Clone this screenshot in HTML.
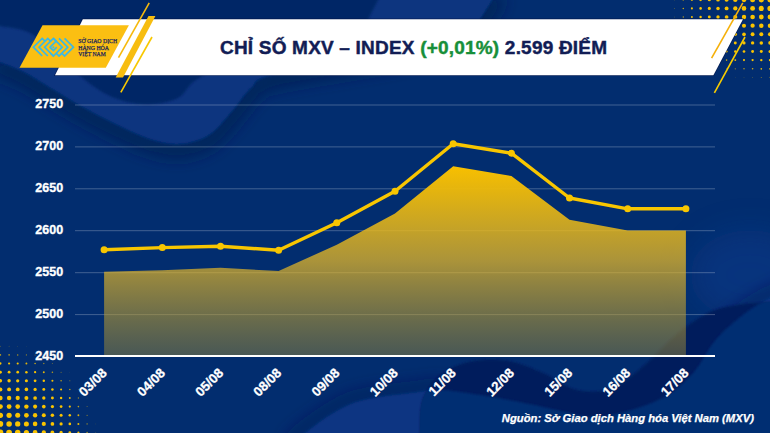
<!DOCTYPE html>
<html><head><meta charset="utf-8">
<style>
html,body{margin:0;padding:0;width:770px;height:433px;overflow:hidden;background:#022d6f;}
svg{display:block;position:absolute;left:0;top:0;}
text{font-family:"Liberation Sans",sans-serif;}
.serif text{font-family:"Liberation Serif",serif;}
</style></head><body>
<svg width="770" height="433" viewBox="0 0 770 433">
<defs>
<linearGradient id="ag" x1="0" y1="166" x2="0" y2="356" gradientUnits="userSpaceOnUse">
<stop offset="0" stop-color="rgb(248,192,0)" stop-opacity="1"/>
<stop offset="0.15" stop-color="rgb(236,185,12)" stop-opacity="0.95"/>
<stop offset="0.5" stop-color="rgb(236,187,37)" stop-opacity="0.72"/>
<stop offset="1" stop-color="rgb(143,130,59)" stop-opacity="0.5"/>
</linearGradient>
</defs>
<rect x="0" y="0" width="770" height="433" fill="#022d6f"/>
<defs>
<filter id="b1" x="-20%" y="-20%" width="140%" height="140%"><feGaussianBlur stdDeviation="0.8"/></filter>
<filter id="b6" x="-50%" y="-50%" width="200%" height="200%"><feGaussianBlur stdDeviation="7"/></filter>
<filter id="b15" x="-100%" y="-100%" width="300%" height="300%"><feGaussianBlur stdDeviation="15"/></filter>
</defs>
<path d="M-5.0,60.0 C-4.2,60.3 -4.7,60.1 0.0,62.0 C4.7,63.9 15.3,67.7 23.0,71.5 C30.7,75.3 38.3,80.4 46.0,85.0 C53.7,89.6 61.3,94.5 69.0,99.0 C76.7,103.5 83.2,107.3 92.0,112.0 C100.8,116.7 112.3,122.5 122.0,127.0 C131.7,131.5 141.2,136.2 150.0,139.0 C158.8,141.8 167.5,143.7 175.0,144.0 C182.5,144.3 188.7,143.0 195.0,141.0 C201.3,139.0 206.7,137.2 213.0,132.0 C219.3,126.8 226.7,117.3 233.0,110.0 C239.3,102.7 244.0,94.0 251.0,88.0 C258.0,82.0 250.2,80.0 275.0,74.0 C299.8,68.0 367.5,59.0 400.0,52.0 C432.5,45.0 456.5,37.8 470.0,32.0 C483.5,26.2 477.3,22.8 481.0,17.5 C484.7,12.2 489.2,4.6 492.0,0.0 C494.8,-4.6 497.0,-8.3 498.0,-10.0 L770,-10 L-10,-10 Z" fill="#07347f" filter="url(#b1)"/>
<path d="M-5.0,60.0 C-4.2,60.3 -4.7,60.1 0.0,62.0 C4.7,63.9 15.3,67.7 23.0,71.5 C30.7,75.3 38.3,80.4 46.0,85.0 C53.7,89.6 61.3,94.5 69.0,99.0 C76.7,103.5 83.2,107.3 92.0,112.0 C100.8,116.7 112.3,122.5 122.0,127.0 C131.7,131.5 141.2,136.2 150.0,139.0 C158.8,141.8 167.5,143.7 175.0,144.0 C182.5,144.3 188.7,143.0 195.0,141.0 C201.3,139.0 206.7,137.2 213.0,132.0 C219.3,126.8 226.7,117.3 233.0,110.0 C239.3,102.7 244.0,94.0 251.0,88.0 C258.0,82.0 250.2,80.0 275.0,74.0 C299.8,68.0 367.5,59.0 400.0,52.0 C432.5,45.0 456.5,37.8 470.0,32.0 C483.5,26.2 477.3,22.8 481.0,17.5 C484.7,12.2 489.2,4.6 492.0,0.0 C494.8,-4.6 497.0,-8.3 498.0,-10.0" fill="none" stroke="#001a50" stroke-width="20" stroke-opacity="0.6" filter="url(#b6)" transform="translate(0,6)"/>
<path d="M-5.0,60.0 C-4.2,60.3 -4.7,60.1 0.0,62.0 C4.7,63.9 15.3,67.7 23.0,71.5 C30.7,75.3 38.3,80.4 46.0,85.0 C53.7,89.6 61.3,94.5 69.0,99.0 C76.7,103.5 83.2,107.3 92.0,112.0 C100.8,116.7 112.3,122.5 122.0,127.0 C131.7,131.5 141.2,136.2 150.0,139.0 C158.8,141.8 167.5,143.7 175.0,144.0 C182.5,144.3 188.7,143.0 195.0,141.0 C201.3,139.0 206.7,137.2 213.0,132.0 C219.3,126.8 226.7,117.3 233.0,110.0 C239.3,102.7 244.0,94.0 251.0,88.0 C258.0,82.0 250.2,80.0 275.0,74.0 C299.8,68.0 367.5,59.0 400.0,52.0 C432.5,45.0 456.5,37.8 470.0,32.0 C483.5,26.2 477.3,22.8 481.0,17.5 C484.7,12.2 489.2,4.6 492.0,0.0 C494.8,-4.6 497.0,-8.3 498.0,-10.0 L770,-10 L-10,-10 Z" fill="#07347f" filter="url(#b1)"/>
<path d="M-5.0,25.0 C-4.2,25.2 -5.5,24.8 0.0,26.0 C5.5,27.2 19.3,28.0 28.0,32.0 C36.7,36.0 43.3,42.7 52.0,50.0 C60.7,57.3 70.3,68.3 80.0,76.0 C89.7,83.7 99.2,91.2 110.0,96.0 C120.8,100.8 133.7,104.2 145.0,104.5 C156.3,104.8 169.5,102.1 178.0,98.0 C186.5,93.9 185.7,86.3 196.0,80.0 C206.3,73.7 219.3,65.8 240.0,60.0 C260.7,54.2 299.7,50.0 320.0,45.0 C340.3,40.0 353.8,34.6 362.0,30.0 C370.2,25.4 366.3,22.5 369.0,17.5 C371.7,12.5 375.7,4.6 378.0,0.0 C380.3,-4.6 382.2,-8.3 383.0,-10.0 L-10,-10 Z" fill="#042766" filter="url(#b1)"/>
<ellipse cx="750" cy="275" rx="60" ry="45" fill="#0a3a8c" opacity="0.5" filter="url(#b15)"/>
<clipPath id="cb1"><path d="M420.0,445.0 C420.0,443.0 419.5,440.7 420.0,433.0 C420.5,425.3 419.2,409.0 423.0,399.0 C426.8,389.0 434.5,379.3 443.0,373.0 C451.5,366.7 463.0,363.0 474.0,361.0 C485.0,359.0 497.5,359.0 509.0,361.0 C520.5,363.0 531.7,368.2 543.0,373.0 C554.3,377.8 565.3,387.5 577.0,390.0 C588.7,392.5 601.2,392.7 613.0,388.0 C624.8,383.3 637.3,371.0 648.0,362.0 C658.7,353.0 667.0,342.2 677.0,334.0 C687.0,325.8 698.0,317.8 708.0,313.0 C718.0,308.2 726.7,306.8 737.0,305.0 C747.3,303.2 761.2,302.5 770.0,302.0 C778.8,301.5 786.7,302.0 790.0,302.0 L790,450 Z"/></clipPath>
<path d="M290.0,450.0 C292.5,447.2 294.5,440.8 305.0,433.0 C315.5,425.2 334.2,409.8 353.0,403.0 C371.8,396.2 403.0,394.2 418.0,392.0 C433.0,389.8 431.7,389.3 443.0,390.0 C454.3,390.7 471.7,393.7 486.0,396.0 C500.3,398.3 514.8,401.2 529.0,404.0 C543.2,406.8 560.0,410.8 571.0,413.0 C582.0,415.2 585.0,417.5 595.0,417.0 C605.0,416.5 619.2,413.5 631.0,410.0 C642.8,406.5 655.5,402.3 666.0,396.0 C676.5,389.7 685.8,381.3 694.0,372.0 C702.2,362.7 707.2,349.7 715.5,340.0 C723.8,330.3 734.9,321.0 744.0,314.0 C753.1,307.0 762.3,302.0 770.0,298.0 C777.7,294.0 786.7,291.3 790.0,290.0" fill="none" stroke="#001d55" stroke-width="14" stroke-opacity="0.45" filter="url(#b6)" transform="translate(-3,-4)"/>
<path d="M290.0,450.0 C292.5,447.2 294.5,440.8 305.0,433.0 C315.5,425.2 334.2,409.8 353.0,403.0 C371.8,396.2 403.0,394.2 418.0,392.0 C433.0,389.8 431.7,389.3 443.0,390.0 C454.3,390.7 471.7,393.7 486.0,396.0 C500.3,398.3 514.8,401.2 529.0,404.0 C543.2,406.8 560.0,410.8 571.0,413.0 C582.0,415.2 585.0,417.5 595.0,417.0 C605.0,416.5 619.2,413.5 631.0,410.0 C642.8,406.5 655.5,402.3 666.0,396.0 C676.5,389.7 685.8,381.3 694.0,372.0 C702.2,362.7 707.2,349.7 715.5,340.0 C723.8,330.3 734.9,321.0 744.0,314.0 C753.1,307.0 762.3,302.0 770.0,298.0 C777.7,294.0 786.7,291.3 790.0,290.0 L790,450 L290,450 Z" fill="#083482" filter="url(#b1)"/>
<path d="M420.0,445.0 C420.0,443.0 419.5,440.7 420.0,433.0 C420.5,425.3 419.2,409.0 423.0,399.0 C426.8,389.0 434.5,379.3 443.0,373.0 C451.5,366.7 463.0,363.0 474.0,361.0 C485.0,359.0 497.5,359.0 509.0,361.0 C520.5,363.0 531.7,368.2 543.0,373.0 C554.3,377.8 565.3,387.5 577.0,390.0 C588.7,392.5 601.2,392.7 613.0,388.0 C624.8,383.3 637.3,371.0 648.0,362.0 C658.7,353.0 667.0,342.2 677.0,334.0 C687.0,325.8 698.0,317.8 708.0,313.0 C718.0,308.2 726.7,306.8 737.0,305.0 C747.3,303.2 761.2,302.5 770.0,302.0 C778.8,301.5 786.7,302.0 790.0,302.0 L790,450 Z" fill="#021f5c" filter="url(#b1)"/>
<g clip-path="url(#cb1)"><path d="M290.0,450.0 C292.5,447.2 294.5,440.8 305.0,433.0 C315.5,425.2 334.2,409.8 353.0,403.0 C371.8,396.2 403.0,394.2 418.0,392.0 C433.0,389.8 431.7,389.3 443.0,390.0 C454.3,390.7 471.7,393.7 486.0,396.0 C500.3,398.3 514.8,401.2 529.0,404.0 C543.2,406.8 560.0,410.8 571.0,413.0 C582.0,415.2 585.0,417.5 595.0,417.0 C605.0,416.5 619.2,413.5 631.0,410.0 C642.8,406.5 655.5,402.3 666.0,396.0 C676.5,389.7 685.8,381.3 694.0,372.0 C702.2,362.7 707.2,349.7 715.5,340.0 C723.8,330.3 734.9,321.0 744.0,314.0 C753.1,307.0 762.3,302.0 770.0,298.0 C777.7,294.0 786.7,291.3 790.0,290.0 L790,450 L290,450 Z" fill="#042d72" filter="url(#b1)"/></g>

<g fill="#f9c300">
<circle cx="674.6" cy="-0.2" r="0.51" opacity="0.52"/>
<circle cx="674.6" cy="8.4" r="0.48" opacity="0.49"/>
<circle cx="674.6" cy="17.0" r="0.42" opacity="0.42"/>
<circle cx="674.6" cy="25.7" r="0.32" opacity="0.32"/>
<circle cx="683.3" cy="-0.2" r="0.80" opacity="0.83"/>
<circle cx="683.3" cy="8.4" r="0.77" opacity="0.80"/>
<circle cx="683.3" cy="17.0" r="0.70" opacity="0.72"/>
<circle cx="683.3" cy="25.7" r="0.59" opacity="0.61"/>
<circle cx="683.3" cy="34.3" r="0.45" opacity="0.46"/>
<circle cx="691.9" cy="-0.2" r="1.07" opacity="1.00"/>
<circle cx="691.9" cy="8.4" r="1.04" opacity="1.00"/>
<circle cx="691.9" cy="17.0" r="0.97" opacity="1.00"/>
<circle cx="691.9" cy="25.7" r="0.86" opacity="0.90"/>
<circle cx="691.9" cy="34.3" r="0.71" opacity="0.73"/>
<circle cx="691.9" cy="42.9" r="0.53" opacity="0.54"/>
<circle cx="691.9" cy="51.5" r="0.31" opacity="0.31"/>
<circle cx="700.6" cy="-0.2" r="1.33" opacity="1.00"/>
<circle cx="700.6" cy="8.4" r="1.29" opacity="1.00"/>
<circle cx="700.6" cy="17.0" r="1.22" opacity="1.00"/>
<circle cx="700.6" cy="25.7" r="1.10" opacity="1.00"/>
<circle cx="700.6" cy="34.3" r="0.95" opacity="1.00"/>
<circle cx="700.6" cy="42.9" r="0.76" opacity="0.79"/>
<circle cx="700.6" cy="51.5" r="0.54" opacity="0.55"/>
<circle cx="709.3" cy="-0.2" r="1.57" opacity="1.00"/>
<circle cx="709.3" cy="8.4" r="1.53" opacity="1.00"/>
<circle cx="709.3" cy="17.0" r="1.45" opacity="1.00"/>
<circle cx="709.3" cy="25.7" r="1.33" opacity="1.00"/>
<circle cx="709.3" cy="34.3" r="1.17" opacity="1.00"/>
<circle cx="709.3" cy="42.9" r="0.97" opacity="1.00"/>
<circle cx="709.3" cy="51.5" r="0.74" opacity="0.77"/>
<circle cx="709.3" cy="60.1" r="0.48" opacity="0.49"/>
<circle cx="718.0" cy="-0.2" r="1.79" opacity="1.00"/>
<circle cx="718.0" cy="8.4" r="1.76" opacity="1.00"/>
<circle cx="718.0" cy="17.0" r="1.67" opacity="1.00"/>
<circle cx="718.0" cy="25.7" r="1.54" opacity="1.00"/>
<circle cx="718.0" cy="34.3" r="1.37" opacity="1.00"/>
<circle cx="718.0" cy="42.9" r="1.16" opacity="1.00"/>
<circle cx="718.0" cy="51.5" r="0.93" opacity="0.98"/>
<circle cx="718.0" cy="60.1" r="0.66" opacity="0.68"/>
<circle cx="718.0" cy="68.8" r="0.36" opacity="0.37"/>
<circle cx="726.6" cy="-0.2" r="2.00" opacity="1.00"/>
<circle cx="726.6" cy="8.4" r="1.96" opacity="1.00"/>
<circle cx="726.6" cy="17.0" r="1.87" opacity="1.00"/>
<circle cx="726.6" cy="25.7" r="1.73" opacity="1.00"/>
<circle cx="726.6" cy="34.3" r="1.55" opacity="1.00"/>
<circle cx="726.6" cy="42.9" r="1.34" opacity="1.00"/>
<circle cx="726.6" cy="51.5" r="1.09" opacity="1.00"/>
<circle cx="726.6" cy="60.1" r="0.81" opacity="0.85"/>
<circle cx="726.6" cy="68.8" r="0.51" opacity="0.52"/>
<circle cx="735.3" cy="-0.2" r="2.19" opacity="1.00"/>
<circle cx="735.3" cy="8.4" r="2.15" opacity="1.00"/>
<circle cx="735.3" cy="17.0" r="2.05" opacity="1.00"/>
<circle cx="735.3" cy="25.7" r="1.90" opacity="1.00"/>
<circle cx="735.3" cy="34.3" r="1.71" opacity="1.00"/>
<circle cx="735.3" cy="42.9" r="1.48" opacity="1.00"/>
<circle cx="735.3" cy="51.5" r="1.23" opacity="1.00"/>
<circle cx="735.3" cy="60.1" r="0.94" opacity="1.00"/>
<circle cx="735.3" cy="68.8" r="0.64" opacity="0.66"/>
<circle cx="735.3" cy="77.4" r="0.31" opacity="0.31"/>
<circle cx="744.0" cy="-0.2" r="2.36" opacity="1.00"/>
<circle cx="744.0" cy="8.4" r="2.31" opacity="1.00"/>
<circle cx="744.0" cy="17.0" r="2.20" opacity="1.00"/>
<circle cx="744.0" cy="25.7" r="2.04" opacity="1.00"/>
<circle cx="744.0" cy="34.3" r="1.84" opacity="1.00"/>
<circle cx="744.0" cy="42.9" r="1.60" opacity="1.00"/>
<circle cx="744.0" cy="51.5" r="1.34" opacity="1.00"/>
<circle cx="744.0" cy="60.1" r="1.05" opacity="1.00"/>
<circle cx="744.0" cy="68.8" r="0.74" opacity="0.76"/>
<circle cx="744.0" cy="77.4" r="0.40" opacity="0.41"/>
<circle cx="752.6" cy="-0.2" r="2.50" opacity="1.00"/>
<circle cx="752.6" cy="8.4" r="2.45" opacity="1.00"/>
<circle cx="752.6" cy="17.0" r="2.32" opacity="1.00"/>
<circle cx="752.6" cy="25.7" r="2.15" opacity="1.00"/>
<circle cx="752.6" cy="34.3" r="1.94" opacity="1.00"/>
<circle cx="752.6" cy="42.9" r="1.69" opacity="1.00"/>
<circle cx="752.6" cy="51.5" r="1.42" opacity="1.00"/>
<circle cx="752.6" cy="60.1" r="1.13" opacity="1.00"/>
<circle cx="752.6" cy="68.8" r="0.81" opacity="0.85"/>
<circle cx="752.6" cy="77.4" r="0.47" opacity="0.48"/>
<circle cx="761.3" cy="-0.2" r="2.62" opacity="1.00"/>
<circle cx="761.3" cy="8.4" r="2.55" opacity="1.00"/>
<circle cx="761.3" cy="17.0" r="2.41" opacity="1.00"/>
<circle cx="761.3" cy="25.7" r="2.22" opacity="1.00"/>
<circle cx="761.3" cy="34.3" r="2.00" opacity="1.00"/>
<circle cx="761.3" cy="42.9" r="1.75" opacity="1.00"/>
<circle cx="761.3" cy="51.5" r="1.48" opacity="1.00"/>
<circle cx="761.3" cy="60.1" r="1.18" opacity="1.00"/>
<circle cx="761.3" cy="68.8" r="0.86" opacity="0.90"/>
<circle cx="761.3" cy="77.4" r="0.52" opacity="0.53"/>
<circle cx="770.0" cy="-0.2" r="2.69" opacity="1.00"/>
<circle cx="770.0" cy="8.4" r="2.60" opacity="1.00"/>
<circle cx="770.0" cy="17.0" r="2.44" opacity="1.00"/>
<circle cx="770.0" cy="25.7" r="2.25" opacity="1.00"/>
<circle cx="770.0" cy="34.3" r="2.03" opacity="1.00"/>
<circle cx="770.0" cy="42.9" r="1.78" opacity="1.00"/>
<circle cx="770.0" cy="51.5" r="1.50" opacity="1.00"/>
<circle cx="770.0" cy="60.1" r="1.20" opacity="1.00"/>
<circle cx="770.0" cy="68.8" r="0.88" opacity="0.92"/>
<circle cx="770.0" cy="77.4" r="0.54" opacity="0.55"/>
<circle cx="0.4" cy="346.3" r="0.47" opacity="0.43"/>
<circle cx="0.4" cy="354.9" r="0.81" opacity="0.76"/>
<circle cx="0.4" cy="363.5" r="1.13" opacity="1.00"/>
<circle cx="0.4" cy="372.2" r="1.44" opacity="1.00"/>
<circle cx="0.4" cy="380.8" r="1.73" opacity="1.00"/>
<circle cx="0.4" cy="389.4" r="1.99" opacity="1.00"/>
<circle cx="0.4" cy="398.0" r="2.24" opacity="1.00"/>
<circle cx="0.4" cy="406.6" r="2.46" opacity="1.00"/>
<circle cx="0.4" cy="415.3" r="2.65" opacity="1.00"/>
<circle cx="0.4" cy="423.9" r="2.82" opacity="1.00"/>
<circle cx="0.4" cy="432.5" r="2.94" opacity="1.00"/>
<circle cx="9.1" cy="346.3" r="0.45" opacity="0.41"/>
<circle cx="9.1" cy="354.9" r="0.79" opacity="0.73"/>
<circle cx="9.1" cy="363.5" r="1.11" opacity="1.00"/>
<circle cx="9.1" cy="372.2" r="1.41" opacity="1.00"/>
<circle cx="9.1" cy="380.8" r="1.70" opacity="1.00"/>
<circle cx="9.1" cy="389.4" r="1.96" opacity="1.00"/>
<circle cx="9.1" cy="398.0" r="2.20" opacity="1.00"/>
<circle cx="9.1" cy="406.6" r="2.42" opacity="1.00"/>
<circle cx="9.1" cy="415.3" r="2.61" opacity="1.00"/>
<circle cx="9.1" cy="423.9" r="2.76" opacity="1.00"/>
<circle cx="9.1" cy="432.5" r="2.87" opacity="1.00"/>
<circle cx="17.7" cy="346.3" r="0.39" opacity="0.36"/>
<circle cx="17.7" cy="354.9" r="0.73" opacity="0.68"/>
<circle cx="17.7" cy="363.5" r="1.05" opacity="1.00"/>
<circle cx="17.7" cy="372.2" r="1.35" opacity="1.00"/>
<circle cx="17.7" cy="380.8" r="1.63" opacity="1.00"/>
<circle cx="17.7" cy="389.4" r="1.89" opacity="1.00"/>
<circle cx="17.7" cy="398.0" r="2.13" opacity="1.00"/>
<circle cx="17.7" cy="406.6" r="2.33" opacity="1.00"/>
<circle cx="17.7" cy="415.3" r="2.51" opacity="1.00"/>
<circle cx="17.7" cy="423.9" r="2.65" opacity="1.00"/>
<circle cx="17.7" cy="432.5" r="2.74" opacity="1.00"/>
<circle cx="26.4" cy="346.3" r="0.31" opacity="0.28"/>
<circle cx="26.4" cy="354.9" r="0.64" opacity="0.59"/>
<circle cx="26.4" cy="363.5" r="0.96" opacity="0.90"/>
<circle cx="26.4" cy="372.2" r="1.25" opacity="1.00"/>
<circle cx="26.4" cy="380.8" r="1.53" opacity="1.00"/>
<circle cx="26.4" cy="389.4" r="1.78" opacity="1.00"/>
<circle cx="26.4" cy="398.0" r="2.01" opacity="1.00"/>
<circle cx="26.4" cy="406.6" r="2.21" opacity="1.00"/>
<circle cx="26.4" cy="415.3" r="2.37" opacity="1.00"/>
<circle cx="26.4" cy="423.9" r="2.50" opacity="1.00"/>
<circle cx="26.4" cy="432.5" r="2.57" opacity="1.00"/>
<circle cx="35.1" cy="354.9" r="0.52" opacity="0.48"/>
<circle cx="35.1" cy="363.5" r="0.83" opacity="0.78"/>
<circle cx="35.1" cy="372.2" r="1.12" opacity="1.00"/>
<circle cx="35.1" cy="380.8" r="1.39" opacity="1.00"/>
<circle cx="35.1" cy="389.4" r="1.63" opacity="1.00"/>
<circle cx="35.1" cy="398.0" r="1.85" opacity="1.00"/>
<circle cx="35.1" cy="406.6" r="2.04" opacity="1.00"/>
<circle cx="35.1" cy="415.3" r="2.19" opacity="1.00"/>
<circle cx="35.1" cy="423.9" r="2.31" opacity="1.00"/>
<circle cx="35.1" cy="432.5" r="2.38" opacity="1.00"/>
<circle cx="43.8" cy="354.9" r="0.38" opacity="0.34"/>
<circle cx="43.8" cy="363.5" r="0.68" opacity="0.63"/>
<circle cx="43.8" cy="372.2" r="0.96" opacity="0.91"/>
<circle cx="43.8" cy="380.8" r="1.22" opacity="1.00"/>
<circle cx="43.8" cy="389.4" r="1.46" opacity="1.00"/>
<circle cx="43.8" cy="398.0" r="1.67" opacity="1.00"/>
<circle cx="43.8" cy="406.6" r="1.84" opacity="1.00"/>
<circle cx="43.8" cy="415.3" r="1.99" opacity="1.00"/>
<circle cx="43.8" cy="423.9" r="2.09" opacity="1.00"/>
<circle cx="43.8" cy="432.5" r="2.16" opacity="1.00"/>
<circle cx="52.4" cy="363.5" r="0.50" opacity="0.46"/>
<circle cx="52.4" cy="372.2" r="0.78" opacity="0.72"/>
<circle cx="52.4" cy="380.8" r="1.03" opacity="0.97"/>
<circle cx="52.4" cy="389.4" r="1.25" opacity="1.00"/>
<circle cx="52.4" cy="398.0" r="1.45" opacity="1.00"/>
<circle cx="52.4" cy="406.6" r="1.62" opacity="1.00"/>
<circle cx="52.4" cy="415.3" r="1.76" opacity="1.00"/>
<circle cx="52.4" cy="423.9" r="1.85" opacity="1.00"/>
<circle cx="52.4" cy="432.5" r="1.91" opacity="1.00"/>
<circle cx="61.1" cy="372.2" r="0.56" opacity="0.52"/>
<circle cx="61.1" cy="380.8" r="0.80" opacity="0.75"/>
<circle cx="61.1" cy="389.4" r="1.02" opacity="0.97"/>
<circle cx="61.1" cy="398.0" r="1.21" opacity="1.00"/>
<circle cx="61.1" cy="406.6" r="1.37" opacity="1.00"/>
<circle cx="61.1" cy="415.3" r="1.50" opacity="1.00"/>
<circle cx="61.1" cy="423.9" r="1.59" opacity="1.00"/>
<circle cx="61.1" cy="432.5" r="1.65" opacity="1.00"/>
<circle cx="69.8" cy="372.2" r="0.32" opacity="0.29"/>
<circle cx="69.8" cy="380.8" r="0.56" opacity="0.51"/>
<circle cx="69.8" cy="389.4" r="0.77" opacity="0.72"/>
<circle cx="69.8" cy="398.0" r="0.95" opacity="0.90"/>
<circle cx="69.8" cy="406.6" r="1.10" opacity="1.00"/>
<circle cx="69.8" cy="415.3" r="1.22" opacity="1.00"/>
<circle cx="69.8" cy="423.9" r="1.31" opacity="1.00"/>
<circle cx="69.8" cy="432.5" r="1.36" opacity="1.00"/>
<circle cx="78.4" cy="389.4" r="0.49" opacity="0.45"/>
<circle cx="78.4" cy="398.0" r="0.67" opacity="0.62"/>
<circle cx="78.4" cy="406.6" r="0.81" opacity="0.76"/>
<circle cx="78.4" cy="415.3" r="0.93" opacity="0.88"/>
<circle cx="78.4" cy="423.9" r="1.01" opacity="0.96"/>
<circle cx="78.4" cy="432.5" r="1.06" opacity="1.00"/>
<circle cx="87.1" cy="398.0" r="0.37" opacity="0.33"/>
<circle cx="87.1" cy="406.6" r="0.51" opacity="0.46"/>
<circle cx="87.1" cy="415.3" r="0.62" opacity="0.57"/>
<circle cx="87.1" cy="423.9" r="0.69" opacity="0.64"/>
<circle cx="87.1" cy="432.5" r="0.74" opacity="0.69"/>
<circle cx="95.8" cy="423.9" r="0.36" opacity="0.33"/>
<circle cx="95.8" cy="432.5" r="0.40" opacity="0.37"/>
</g>
<polygon points="82.8,19.2 743,19.2 713.4,75.3 55,75.3" fill="none" stroke="#000c3c" stroke-width="1.4" stroke-opacity="0.55"/>
<polygon points="82.8,19.2 743,19.2 713.4,75.3 55,75.3" fill="#ffffff"/>
<polygon points="42.5,25.3 128.9,25.3 105.8,67.8 19.5,67.8" fill="#fbbf12"/>
<g stroke-width="1.6" stroke-linecap="butt">
<line x1="149.2" y1="2.8" x2="118.5" y2="57.7" stroke="#f6b90c"/>
<line x1="152" y1="37" x2="120.8" y2="92.4" stroke="#f8c800"/>
<line x1="742.8" y1="2.8" x2="711.6" y2="58.2" stroke="#f5b00a"/>
<line x1="745" y1="37" x2="714.4" y2="92.8" stroke="#f8cc00"/>
</g>
<polygon points="148.5,16 155.4,16 123,77.4 115.7,77.4" fill="#f7bd10"/>
<g fill="none" stroke="#3ab8e6" stroke-width="1.7" stroke-linecap="butt" stroke-linejoin="miter">
<polyline points="44.9,41.1 42.2,38.4 33.4,47.2 42.2,56.0"/>
<polyline points="50.5,41.1 47.8,38.4 39.0,47.2 47.8,56.0"/>
<polyline points="56.1,41.1 53.4,38.4 44.6,47.2 53.4,56.0"/>
<polyline points="50.7,53.3 53.4,56.0 62.2,47.2 53.4,38.4"/>
<polyline points="56.3,53.3 59.0,56.0 67.8,47.2 59.0,38.4"/>
<polyline points="61.9,53.3 64.6,56.0 73.4,47.2 64.6,38.4"/>
<polyline points="56.1,41.1 53.4,43.8 50.0,47.2 53.4,50.6 56.8,47.2"/>
</g>
<circle cx="53.4" cy="47.2" r="1.0" fill="#3ab8e6"/>
<g class="serif" font-size="6" fill="#22265a" stroke="#22265a" stroke-width="0.25">
<text x="78.2" y="43.1" textLength="39" lengthAdjust="spacingAndGlyphs">SỞ GIAO DỊCH</text>
<text x="78.2" y="49.6" textLength="30.8" lengthAdjust="spacingAndGlyphs">HÀNG HÓA</text>
<text x="78.2" y="55.9" textLength="27.6" lengthAdjust="spacingAndGlyphs">VIỆT NAM</text>
</g>
<text x="413.6" y="53.9" text-anchor="middle" font-size="19" letter-spacing="0.2" font-weight="bold" fill="#121d55" stroke="#121d55" stroke-width="0.45">CHỈ SỐ MXV – INDEX <tspan fill="#178f3a" stroke="#178f3a">(+0,01%)</tspan> 2.599 ĐIỂM</text>
<g stroke="#ffffff" stroke-opacity="0.25" stroke-width="1">
<line x1="75" y1="314.6" x2="715" y2="314.6"/>
<line x1="75" y1="272.7" x2="715" y2="272.7"/>
<line x1="75" y1="230.7" x2="715" y2="230.7"/>
<line x1="75" y1="188.8" x2="715" y2="188.8"/>
<line x1="75" y1="146.9" x2="715" y2="146.9"/>
<line x1="75" y1="105.0" x2="715" y2="105.0"/>
</g>
<path d="M104.1,356.5 L104.1,271.8 L162.3,270.2 L220.5,267.7 L278.6,271.1 L336.8,244.7 L395.0,213.5 L453.2,166.3 L511.4,176 L569.5,219.8 L627.7,230.5 L685.9,230.5 L685.9,356.5 Z" fill="url(#ag)"/>
<line x1="75" y1="356" x2="715" y2="356" stroke="#ffffff" stroke-width="2"/>
<polyline points="104.1,249.8 162.3,247.6 220.5,246.2 278.6,250.3 336.8,222.8 395.0,191.3 453.2,143.7 511.4,153.2 569.5,198 627.7,208.8 685.9,208.8" fill="none" stroke="#f8c600" stroke-width="3.4" stroke-linejoin="round"/>
<g fill="#f8c600">
<circle cx="104.1" cy="249.8" r="3.5"/>
<circle cx="162.3" cy="247.6" r="3.5"/>
<circle cx="220.5" cy="246.2" r="3.5"/>
<circle cx="278.6" cy="250.3" r="3.5"/>
<circle cx="336.8" cy="222.8" r="3.5"/>
<circle cx="395.0" cy="191.3" r="3.5"/>
<circle cx="453.2" cy="143.7" r="3.5"/>
<circle cx="511.4" cy="153.2" r="3.5"/>
<circle cx="569.5" cy="198" r="3.5"/>
<circle cx="627.7" cy="208.8" r="3.5"/>
<circle cx="685.9" cy="208.8" r="3.5"/>
</g>
<g fill="#ffffff" stroke="#ffffff" stroke-width="0.35" font-size="12.5" font-weight="bold" text-anchor="end">
<text x="63.1" y="359.8">2450</text>
<text x="63.1" y="317.9">2500</text>
<text x="63.1" y="276.0">2550</text>
<text x="63.1" y="234.0">2600</text>
<text x="63.1" y="192.1">2650</text>
<text x="63.1" y="150.2">2700</text>
<text x="63.1" y="108.3">2750</text>
</g>
<g fill="#ffffff" stroke="#ffffff" stroke-width="0.3" font-size="13.2" font-weight="bold" text-anchor="end">
<text x="107.7" y="373.8" transform="rotate(-45 107.7 373.8)">03/08</text>
<text x="165.9" y="373.8" transform="rotate(-45 165.9 373.8)">04/08</text>
<text x="224.1" y="373.8" transform="rotate(-45 224.1 373.8)">05/08</text>
<text x="282.2" y="373.8" transform="rotate(-45 282.2 373.8)">08/08</text>
<text x="340.4" y="373.8" transform="rotate(-45 340.4 373.8)">09/08</text>
<text x="398.6" y="373.8" transform="rotate(-45 398.6 373.8)">10/08</text>
<text x="456.8" y="373.8" transform="rotate(-45 456.8 373.8)">11/08</text>
<text x="515.0" y="373.8" transform="rotate(-45 515.0 373.8)">12/08</text>
<text x="573.1" y="373.8" transform="rotate(-45 573.1 373.8)">15/08</text>
<text x="631.3" y="373.8" transform="rotate(-45 631.3 373.8)">16/08</text>
<text x="689.5" y="373.8" transform="rotate(-45 689.5 373.8)">17/08</text>
</g>
<text x="754" y="421.6" text-anchor="end" font-size="11.25" font-weight="bold" font-style="italic" fill="#ffffff" stroke="#ffffff" stroke-width="0.25">Nguồn: Sở Giao dịch Hàng hóa Việt Nam (MXV)</text>
</svg>
</body></html>
